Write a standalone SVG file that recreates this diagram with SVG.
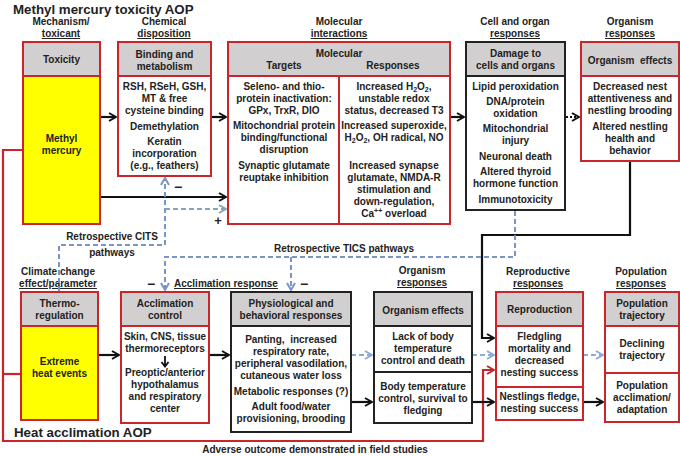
<svg xmlns="http://www.w3.org/2000/svg" width="680" height="456" viewBox="0 0 680 456">
<style>
text{font-family:"Liberation Sans",Arial,sans-serif;font-weight:bold;font-size:10px;fill:#222;text-anchor:middle}
.ttl{font-size:13.3px;text-anchor:start}
.st{text-anchor:start}
.u{text-decoration:underline}
.hd{fill:#d1cfcf}
.ye{fill:#ffff00}
.wh{fill:#fff}
.ro{fill:none;stroke:#c9252b;stroke-width:2}
.bo{fill:none;stroke:#222;stroke-width:2}
.ck{fill:none;stroke:#111;stroke-width:2.2}
.cr{fill:none;stroke:#c9252b;stroke-width:2.2}
.cb{fill:none;stroke:#7b93c6;stroke-width:2;stroke-dasharray:5,3}
.cl{fill:none;stroke:#8eaadb;stroke-width:2;stroke-dasharray:5,3}
.ct{fill:none;stroke:#87a7b3;stroke-width:2;stroke-dasharray:5,3}
.cd{fill:none;stroke:#111;stroke-width:2;stroke-dasharray:2,2}
.sub{font-size:7px}
</style>
<defs>
<marker id="ak" viewBox="0 0 10 10" refX="9" refY="5" markerWidth="10" markerHeight="10" markerUnits="userSpaceOnUse" orient="auto"><path d="M2,1 L9,5 L2,9" fill="none" stroke="#111" stroke-width="2"/></marker>
<marker id="ar" viewBox="0 0 10 10" refX="9" refY="5" markerWidth="10" markerHeight="10" markerUnits="userSpaceOnUse" orient="auto"><path d="M2,1 L9,5 L2,9" fill="none" stroke="#c9252b" stroke-width="2"/></marker>
<marker id="ab" viewBox="0 0 10 10" refX="9" refY="5" markerWidth="10" markerHeight="10" markerUnits="userSpaceOnUse" orient="auto"><path d="M2,1 L9,5 L2,9" fill="none" stroke="#7b93c6" stroke-width="2"/></marker>
<marker id="al" viewBox="0 0 10 10" refX="9" refY="5" markerWidth="10" markerHeight="10" markerUnits="userSpaceOnUse" orient="auto"><path d="M2,1 L9,5 L2,9" fill="none" stroke="#8eaadb" stroke-width="2"/></marker>
<marker id="at" viewBox="0 0 10 10" refX="9" refY="5" markerWidth="10" markerHeight="10" markerUnits="userSpaceOnUse" orient="auto"><path d="M2,1 L9,5 L2,9" fill="none" stroke="#87a7b3" stroke-width="2"/></marker>
</defs>
<rect width="680" height="456" fill="#fff"/>

<g id="labels">
<text class="ttl" x="13" y="14">Methyl mercury toxicity AOP</text>
<text class="ttl" x="14" y="437">Heat acclimation AOP</text>
<text x="61" y="25">Mechanism/</text><text class="u" x="61" y="37">toxicant</text>
<text x="164" y="25">Chemical</text><text class="u" x="164" y="37">disposition</text>
<text x="339" y="25">Molecular</text><text class="u" x="339" y="37">interactions</text>
<text x="515" y="25">Cell and organ</text><text class="u" x="515" y="37">responses</text>
<text x="630" y="25">Organism</text><text class="u" x="630" y="37">responses</text>
<text x="112" y="240">Retrospective CITS</text><text x="112" y="256">pathways</text>
<text x="344" y="252">Retrospective TICS pathways</text>
<text x="58" y="275">Climate change</text><text class="u" x="58" y="287">effect/parameter</text>
<text class="st u" x="174" y="287">Acclimation response</text>
<text x="422" y="274">Organism</text><text class="u" x="422" y="286">responses</text>
<text x="538" y="275">Reproductive</text><text class="u" x="538" y="287">responses</text>
<text x="641" y="275">Population</text><text class="u" x="641" y="287">responses</text>
<text x="315" y="453">Adverse outcome demonstrated in field studies</text>
<text x="178" y="192" style="font-size:14px">−</text>
<text x="218" y="225" style="font-size:13px">+</text>
<text x="151" y="289" style="font-size:14px">−</text>
<text x="304" y="289" style="font-size:14px">−</text>
</g>

<g id="connectors">
<path class="cr" d="M23,150 H3 V441 H483 V370 H494" marker-end="url(#ar)"/>
<path class="cr" d="M21,374 H3"/>
<path class="ck" d="M100,117 H116" marker-end="url(#ak)"/>
<path class="ck" d="M211,117 H226" marker-end="url(#ak)"/>
<path class="ck" d="M450,117 H464" marker-end="url(#ak)"/>
<path class="cd" d="M566,117 H579" marker-end="url(#ak)"/>
<path class="ck" d="M100,197 H226" marker-end="url(#ak)"/>
<path class="ck" d="M630,161 V235 H482 V338 H494" marker-end="url(#ak)"/>
<path class="cb" d="M59,291 V245 H165 V178" marker-end="url(#ab)"/>
<path class="ct" d="M165,209 H226" marker-end="url(#at)"/>
<path class="cb" d="M515,211 V257 H165 V290" marker-end="url(#ab)"/>
<path class="cb" d="M291,257 V290" marker-end="url(#ab)"/>
<path class="ck" d="M98,355 H119" marker-end="url(#ak)"/>
<path class="ck" d="M209,355 H229" marker-end="url(#ak)"/>
<path class="cl" d="M351,355 H372" marker-end="url(#al)"/>
<path class="ck" d="M351,402 H372" marker-end="url(#ak)"/>
<path class="cl" d="M472,355 H494" marker-end="url(#al)"/>
<path class="ck" d="M472,402 H494" marker-end="url(#ak)"/>
<path class="cl" d="M583,355 H603" marker-end="url(#al)"/>
<path class="ck" d="M583,402 H603" marker-end="url(#ak)"/>
</g>

<g id="toxicity">
<rect class="ye" x="23" y="42" width="77" height="182"/>
<rect class="hd" x="23" y="42" width="77" height="34"/>
<rect class="ro" x="23" y="42" width="77" height="182"/>
<line class="ro" x1="23" y1="76" x2="100" y2="76"/>
<text x="61.5" y="63">Toxicity</text>
<text x="61.5" y="142">Methyl<tspan x="61.5" dy="12">mercury</tspan></text>
</g>

<g id="binding">
<rect class="wh" x="118" y="42" width="93" height="134"/>
<rect class="hd" x="118" y="42" width="93" height="34"/>
<rect class="ro" x="118" y="42" width="93" height="134"/>
<line class="ro" x1="118" y1="76" x2="211" y2="76"/>
<text x="164.5" y="58">Binding and<tspan x="164.5" dy="12">metabolism</tspan></text>
<text x="164.5" y="90">RSH, RSeH, GSH,<tspan x="164.5" dy="12">MT &amp; free</tspan><tspan x="164.5" dy="12">cysteine binding</tspan></text>
<text x="164.5" y="130">Demethylation</text>
<text x="164.5" y="145">Keratin<tspan x="164.5" dy="12">incorporation</tspan><tspan x="164.5" dy="12">(e.g., feathers)</tspan></text>
</g>

<g id="molecular">
<rect class="wh" x="228" y="42" width="222" height="182"/>
<rect class="hd" x="228" y="42" width="222" height="34"/>
<rect class="ro" x="228" y="42" width="222" height="182"/>
<line class="ro" x1="228" y1="76" x2="450" y2="76"/>
<line class="ro" x1="339" y1="76" x2="339" y2="224"/>
<text x="339" y="57">Molecular</text>
<text x="284" y="69">Targets</text>
<text x="393" y="69">Responses</text>
<text x="284" y="90">Seleno- and thio-<tspan x="284" dy="12">protein inactivation:</tspan><tspan x="284" dy="12">GPx, TrxR, DIO</tspan></text>
<text x="284" y="129">Mitochondrial protein<tspan x="284" dy="12">binding/functional</tspan><tspan x="284" dy="12">disruption</tspan></text>
<text x="284" y="169">Synaptic glutamate<tspan x="284" dy="12">reuptake inhibition</tspan></text>
<text x="394" y="90">Increased H<tspan class="sub" dy="2">2</tspan><tspan dy="-2">O</tspan><tspan class="sub" dy="2">2</tspan><tspan dy="-2">,</tspan></text>
<text x="394" y="102">unstable redox</text>
<text x="394" y="114">status, decreased T3</text>
<text x="394" y="129">Increased superoxide,</text>
<text x="394" y="141">H<tspan class="sub" dy="2">2</tspan><tspan dy="-2">O</tspan><tspan class="sub" dy="2">2</tspan><tspan dy="-2">, OH radical, NO</tspan></text>
<text x="394" y="169">Increased synapse<tspan x="394" dy="12">glutamate, NMDA-R</tspan><tspan x="394" dy="12">stimulation and</tspan><tspan x="394" dy="12">down-regulation,</tspan></text>
<text x="394" y="217">Ca<tspan class="sub" dy="-4">++</tspan><tspan dy="4"> overload</tspan></text>
</g>

<g id="damage">
<rect class="wh" x="466" y="42" width="99" height="168"/>
<rect class="hd" x="466" y="42" width="99" height="34"/>
<rect class="bo" x="466" y="42" width="99" height="168"/>
<line class="bo" x1="466" y1="76" x2="565" y2="76"/>
<text x="515.5" y="57">Damage to<tspan x="515.5" dy="12">cells and organs</tspan></text>
<text x="515.5" y="90">Lipid peroxidation</text>
<text x="515.5" y="105">DNA/protein<tspan x="515.5" dy="12">oxidation</tspan></text>
<text x="515.5" y="132">Mitochondrial<tspan x="515.5" dy="12">injury</tspan></text>
<text x="515.5" y="160">Neuronal death</text>
<text x="515.5" y="175">Altered thyroid<tspan x="515.5" dy="12">hormone function</tspan></text>
<text x="515.5" y="203">Immunotoxicity</text>
</g>

<g id="organism-effects-1">
<rect class="wh" x="581" y="42" width="98" height="119"/>
<rect class="hd" x="581" y="42" width="98" height="34"/>
<rect class="ro" x="581" y="42" width="98" height="119"/>
<line class="ro" x1="581" y1="76" x2="679" y2="76"/>
<text x="630" y="64" xml:space="preserve">Organism  effects</text>
<text x="630" y="90">Decreased nest<tspan x="630" dy="12">attentiveness and</tspan><tspan x="630" dy="12">nestling brooding</tspan></text>
<text x="630" y="130">Altered nestling<tspan x="630" dy="12">health and</tspan><tspan x="630" dy="12">behavior</tspan></text>
</g>

<g id="thermoregulation">
<rect class="ye" x="21" y="292" width="77" height="128"/>
<rect class="hd" x="21" y="292" width="77" height="34"/>
<rect class="ro" x="21" y="292" width="77" height="128"/>
<line class="ro" x1="21" y1="326" x2="98" y2="326"/>
<text x="59.5" y="307">Thermo-<tspan x="59.5" dy="12">regulation</tspan></text>
<text x="59.5" y="365">Extreme<tspan x="59.5" dy="12">heat events</tspan></text>
</g>

<g id="acclimation-control">
<rect class="wh" x="121" y="292" width="88" height="131"/>
<rect class="hd" x="121" y="292" width="88" height="34"/>
<rect class="ro" x="121" y="292" width="88" height="131"/>
<line class="ro" x1="121" y1="326" x2="209" y2="326"/>
<text x="165" y="307">Acclimation<tspan x="165" dy="12">control</tspan></text>
<text x="165" y="340">Skin, CNS, tissue<tspan x="165" dy="12">thermoreceptors</tspan></text>
<path d="M165,356 V366 M161.5,362 L165,366.5 L168.5,362" fill="none" stroke="#111" stroke-width="1.8"/>
<text x="165" y="376">Preoptic/anterior<tspan x="165" dy="12">hypothalamus</tspan><tspan x="165" dy="12">and respiratory</tspan><tspan x="165" dy="12">center</tspan></text>
</g>

<g id="physiological">
<rect class="wh" x="231" y="292" width="120" height="140"/>
<rect class="hd" x="231" y="292" width="120" height="34"/>
<rect class="bo" x="231" y="292" width="120" height="140"/>
<line class="bo" x1="231" y1="326" x2="351" y2="326"/>
<text x="291" y="307">Physiological and<tspan x="291" dy="12">behavioral responses</tspan></text>
<text x="291" y="343" xml:space="preserve">Panting,  increased</text>
<text x="291" y="355">respiratory rate,<tspan x="291" dy="12">peripheral vasodilation,</tspan><tspan x="291" dy="12">cutaneous water loss</tspan></text>
<text x="291" y="395">Metabolic responses (?)</text>
<text x="291" y="410">Adult food/water<tspan x="291" dy="12">provisioning, brooding</tspan></text>
</g>

<g id="organism-effects-2">
<rect class="wh" x="374" y="292" width="98" height="131"/>
<rect class="hd" x="374" y="292" width="98" height="34"/>
<rect class="bo" x="374" y="292" width="98" height="131"/>
<line class="bo" x1="374" y1="326" x2="472" y2="326"/>
<line class="bo" x1="374" y1="372" x2="472" y2="372"/>
<text x="423" y="314">Organism effects</text>
<text x="423" y="340">Lack of body<tspan x="423" dy="12">temperature</tspan><tspan x="423" dy="12">control and death</tspan></text>
<text x="423" y="390">Body temperature<tspan x="423" dy="12">control, survival to</tspan><tspan x="423" dy="12">fledging</tspan></text>
</g>

<g id="reproduction">
<rect class="wh" x="496" y="292" width="87" height="128"/>
<rect class="hd" x="496" y="292" width="87" height="34"/>
<rect class="ro" x="496" y="292" width="87" height="128"/>
<line class="ro" x1="496" y1="326" x2="583" y2="326"/>
<line class="ro" x1="496" y1="387" x2="583" y2="387"/>
<text x="539.5" y="313">Reproduction</text>
<text x="539.5" y="340">Fledgling<tspan x="539.5" dy="12">mortality and</tspan><tspan x="539.5" dy="12">decreased</tspan><tspan x="539.5" dy="12">nesting success</tspan></text>
<text x="539.5" y="400">Nestlings fledge,<tspan x="539.5" dy="12">nesting success</tspan></text>
</g>

<g id="population">
<rect class="wh" x="605" y="292" width="74" height="130"/>
<rect class="hd" x="605" y="292" width="74" height="34"/>
<rect class="ro" x="605" y="292" width="74" height="130"/>
<line class="ro" x1="605" y1="326" x2="679" y2="326"/>
<line class="ro" x1="605" y1="373" x2="679" y2="373"/>
<text x="642" y="307">Population<tspan x="642" dy="12">trajectory</tspan></text>
<text x="642" y="347">Declining<tspan x="642" dy="12">trajectory</tspan></text>
<text x="642" y="389">Population<tspan x="642" dy="12">acclimation/</tspan><tspan x="642" dy="12">adaptation</tspan></text>
</g>
</svg>
